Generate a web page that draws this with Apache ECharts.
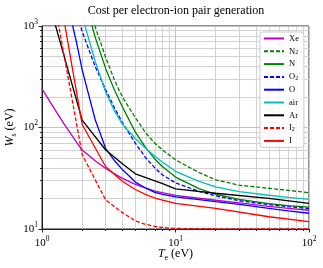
<!DOCTYPE html>
<html><head><meta charset="utf-8">
<script src="https://cdn.jsdelivr.net/npm/echarts@6/dist/echarts.min.js"></script>
<style>html,body{margin:0;padding:0;background:#fff}#c{width:323px;height:268px}</style>
</head><body><div id="c"></div>
<script>
const titleText = 'Cost per electron-ion pair generation';
const seriesNames = ['Xe','N2','N','O2','O','air','Ar','I2','I'];
const xTicks = [1, 10, 100];
const yTicks = [10, 100, 1000];
const xMinorTicks = [2, 3, 4, 5, 6, 7, 8, 9, 20, 30, 40, 50, 60, 70, 80, 90];
const yMinorTicks = [20, 30, 40, 50, 60, 70, 80, 90, 200, 300, 400, 500, 600, 700, 800, 900];

const T_Xe = [1, 1.25, 1.5, 1.75, 2, 2.5, 3, 4, 5, 7, 10, 20, 30, 50, 70, 100];
const W_Xe = [240, 150, 103, 77, 60, 47, 39.5, 31.5, 27.5, 23.6, 21.4, 19.2, 18.1, 16.7, 16, 15.3];

const T_N2 = [2.4, 3, 3.5, 4, 5, 6, 7, 8, 10, 15, 20, 30, 50, 70, 100];
const W_N2 = [1150, 490, 290, 200, 125, 88, 70, 60, 48, 36, 30.5, 27, 25.2, 24, 22.8];

const T_N = [2.3, 2.5, 3, 3.5, 4, 5, 6, 7, 8, 10, 15, 20, 30, 50, 70, 100];
const W_N = [1150, 780, 380, 232, 160, 90, 63, 49, 41, 32.5, 25, 22, 19.6, 17.8, 17, 16.4];

const T_O2 = [1.9, 2, 2.5, 3, 3.5, 4, 5, 6, 7, 8, 10, 15, 20, 30, 50, 70, 100];
const W_O2 = [1100, 880, 400, 235, 155, 112, 70, 50, 40, 34, 28.5, 23.5, 21.2, 19, 17.4, 16.6, 15.9];

const T_O = [1.6, 1.8, 2, 2.5, 3, 3.5, 4, 5, 6, 7, 8, 10, 15, 20, 30, 50, 70, 100];
const W_O = [1400, 720, 370, 120, 62, 47, 38.5, 29, 25.2, 23, 21.9, 20.7, 19.5, 18.6, 17.5, 16, 15.1, 14.3];

const T_air = [2, 2.5, 3, 3.5, 4, 5, 6, 7, 8, 10, 15, 20, 30, 50, 70, 100];
const W_air = [1250, 450, 222, 145, 108, 78, 62, 52, 45.5, 37, 29.5, 26, 23.4, 21.5, 20.5, 19.6];

const T_Ar = [1, 2, 3, 4, 5, 6, 7, 8, 9, 10, 20, 50, 100];
const W_Ar = [3000, 118, 60, 44, 35, 32, 29.8, 28, 26.3, 24.8, 22.5, 20, 17.9];

const T_I2 = [1, 2, 3, 4, 5, 6, 7, 8, 9, 10, 20, 50, 100];
const W_I2 = [8000, 54, 19.3, 14.5, 12, 11.1, 10.6, 10.35, 10.2, 10.12, 10.05, 10.02, 10.01];

const T_I = [1, 2, 3, 4, 5, 6, 7, 8, 10, 20, 50, 100];
const W_I = [20000, 107, 41, 29.5, 24.5, 21.8, 20.2, 19.3, 17.9, 16, 13.2, 11.8];

const seriesT = [T_Xe, T_N2, T_N, T_O2, T_O, T_air, T_Ar, T_I2, T_I];
const seriesW = [W_Xe, W_N2, W_N, W_O2, W_O, W_air, W_Ar, W_I2, W_I];
const colors = ['#bf00bf', '#008000', '#008000', '#0000ff', '#0000ff', '#00bfbf', '#000000', '#ff0000', '#ff0000'];
const dashed = [false, true, false, true, false, false, false, true, false];

const FONT = 'Liberation Serif';
const chart = echarts.init(document.getElementById('c'), null, {renderer: 'canvas'});

function pow10Label(v) {
  const e = Math.round(Math.log10(v));
  return '{b|10}{p|' + e + '}';
}
const labelRich = {
  b: {fontFamily: FONT, fontSize: 11, color: '#000', lineHeight: 16},
  p: {fontFamily: FONT, fontSize: 7.5, color: '#000', lineHeight: 8, verticalAlign: 'top'}
};
const nameRich = {
  i: {fontFamily: FONT, fontSize: 12, fontStyle: 'italic', color: '#000', lineHeight: 16},
  r: {fontFamily: FONT, fontSize: 12, color: '#000', lineHeight: 16},
  s: {fontFamily: FONT, fontSize: 8, color: '#000', lineHeight: 8, verticalAlign: 'bottom'}
};

const series = seriesNames.map((n, k) => ({
  name: n,
  type: 'line',
  data: seriesT[k].map((t, j) => [t, seriesW[k][j]]),
  symbol: 'none',
  smooth: false,
  clip: true,
  color: colors[k],
  lineStyle: {color: colors[k], width: 1.3, type: dashed[k] ? [4, 2] : 'solid'},
  emphasis: {disabled: true},
  animation: false
}));

function mainAxis(ticks, isX) {
  return {
    type: 'log', logBase: 10, min: ticks[0], max: ticks[ticks.length - 1],
    position: isX ? 'bottom' : 'left',
    axisLine: {show: true, lineStyle: {color: '#222', width: 1}},
    axisTick: {show: true, length: 3.5, lineStyle: {color: '#222'}},
    minorTick: {show: false},
    splitLine: {show: true, lineStyle: {color: '#c4c4c4', width: 1}},
    axisLabel: {formatter: pow10Label, rich: labelRich, margin: isX ? 6 : 4},
    z: 3
  };
}
function minorAxis(ticks, minors, isX) {
  return {
    type: 'log', logBase: 10, min: ticks[0], max: ticks[ticks.length - 1],
    position: isX ? 'bottom' : 'left',
    axisLine: {show: false},
    axisTick: {show: true, length: 2, customValues: minors, lineStyle: {color: '#222'}},
    axisLabel: {show: false},
    splitLine: {show: true, lineStyle: {color: '#d2d2d2', width: 1}},
    z: 2
  };
}

const xMain = mainAxis(xTicks, true);
xMain.name = '{i|T}{s|e}{r| (eV)}';
xMain.nameLocation = 'middle';
xMain.nameGap = 17;
xMain.nameMoveOverlap = false;
xMain.nameTextStyle = {rich: nameRich};
const yMain = mainAxis(yTicks, false);
yMain.name = '{i|W}{s|s}{r| (eV)}';
yMain.nameLocation = 'middle';
yMain.nameGap = 24;
yMain.nameMoveOverlap = false;
yMain.nameTextStyle = {rich: nameRich};

const option = {
  animation: false,
  graphic: [{
    type: 'text', x: 176, y: 5,
    style: {text: titleText, textAlign: 'center', textVerticalAlign: 'top', font: '12px "' + FONT + '"', fill: '#000'}
  }],
  grid: {left: 42, right: 14, top: 26, bottom: 39, containLabel: false, outerBoundsMode: 'none',
    show: true, borderColor: '#222', borderWidth: 1, backgroundColor: 'transparent'},
  legend: {
    orient: 'vertical', left: 260, top: 32,
    data: seriesNames,
    itemWidth: 20, itemHeight: 8, itemGap: 3.8,
    padding: [2, 5, 2, 3],
    backgroundColor: 'rgba(255,255,255,0.85)',
    borderColor: '#cccccc', borderWidth: 1, borderRadius: 3,
    itemStyle: {opacity: 0, borderWidth: 0},
    textStyle: {fontFamily: FONT, fontSize: 8.5, color: '#000', lineHeight: 9,
      rich: {s: {fontFamily: FONT, fontSize: 6, color: '#000', lineHeight: 6, verticalAlign: 'bottom'}}},
    formatter: n => n.replace(/(\d)/, '{s|$1}'),
    selectedMode: false
  },
  xAxis: [xMain, minorAxis(xTicks, xMinorTicks, true)],
  yAxis: [yMain, minorAxis(yTicks, yMinorTicks, false)],
  series: series
};
chart.setOption(option);
</script></body></html>
